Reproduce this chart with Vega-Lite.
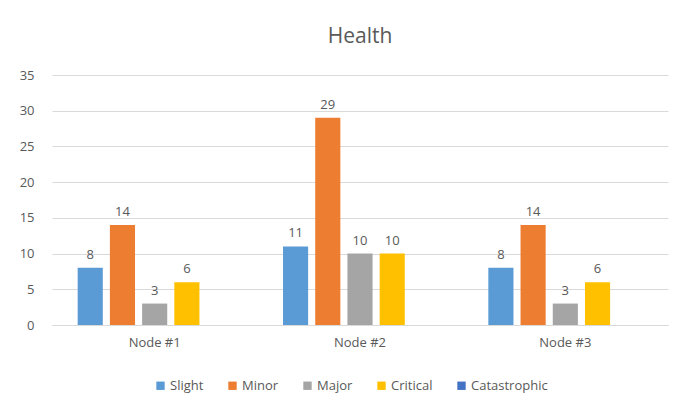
{
  "$schema": "https://vega.github.io/schema/vega-lite/v6.json",
  "width": 616,
  "height": 250,
  "autosize": {"type": "none"},
  "padding": {"left": 52, "top": 75, "right": 24, "bottom": 94},
  "background": "white",
  "title": {"text": "Health", "fontSize": 21, "font": "Open Sans", "fontWeight": "normal", "color": "#595959", "offset": 22, "anchor": "middle"},
  "config": {
    "font": "Open Sans",
    "view": {"stroke": null},
    "axis": {"labelFont": "Open Sans", "labelFontSize": 13, "labelColor": "#595959"},
    "legend": {"labelFont": "Open Sans", "labelFontSize": 13, "labelColor": "#595959"}
  },
  "data": {
    "values": [
      {"node": "Node #1", "severity": "Slight", "value": 8},
      {"node": "Node #1", "severity": "Minor", "value": 14},
      {"node": "Node #1", "severity": "Major", "value": 3},
      {"node": "Node #1", "severity": "Critical", "value": 6},
      {"node": "Node #1", "severity": "Catastrophic", "value": 0},
      {"node": "Node #2", "severity": "Slight", "value": 11},
      {"node": "Node #2", "severity": "Minor", "value": 29},
      {"node": "Node #2", "severity": "Major", "value": 10},
      {"node": "Node #2", "severity": "Critical", "value": 10},
      {"node": "Node #2", "severity": "Catastrophic", "value": 0},
      {"node": "Node #3", "severity": "Slight", "value": 8},
      {"node": "Node #3", "severity": "Minor", "value": 14},
      {"node": "Node #3", "severity": "Major", "value": 3},
      {"node": "Node #3", "severity": "Critical", "value": 6},
      {"node": "Node #3", "severity": "Catastrophic", "value": 0}
    ]
  },
  "encoding": {
    "x": {
      "field": "node", "type": "nominal",
      "scale": {"paddingInner": 0.25, "paddingOuter": 0.125},
      "axis": {"title": null, "labelAngle": 0, "ticks": false, "domain": true, "domainColor": "#D9D9D9", "labelPadding": 11}
    },
    "xOffset": {
      "field": "severity", "type": "nominal",
      "scale": {"domain": ["Slight", "Minor", "Major", "Critical", "Catastrophic"], "paddingInner": 0.22}
    },
    "y": {
      "field": "value", "type": "quantitative",
      "scale": {"domain": [0, 35]},
      "axis": {"values": [0, 5, 10, 15, 20, 25, 30, 35], "title": null, "domain": false, "ticks": false, "gridColor": "#D9D9D9", "labelPadding": 18}
    }
  },
  "layer": [
    {
      "mark": {"type": "bar"},
      "encoding": {
        "color": {
          "field": "severity", "type": "nominal",
          "scale": {"domain": ["Slight", "Minor", "Major", "Critical", "Catastrophic"], "range": ["#5B9BD5", "#ED7D31", "#A5A5A5", "#FFC000", "#4472C4"]},
          "legend": {"title": null, "orient": "none", "legendX": 102, "legendY": 304, "direction": "horizontal", "symbolType": "square", "symbolSize": 70, "symbolStrokeWidth": 0, "columnPadding": 22, "labelOffset": 3}
        }
      }
    },
    {
      "transform": [{"filter": "datum.value > 0"}],
      "mark": {"type": "text", "dy": -13, "fontSize": 13, "color": "#595959", "font": "Open Sans"},
      "encoding": {"text": {"field": "value", "type": "quantitative"}}
    }
  ]
}
